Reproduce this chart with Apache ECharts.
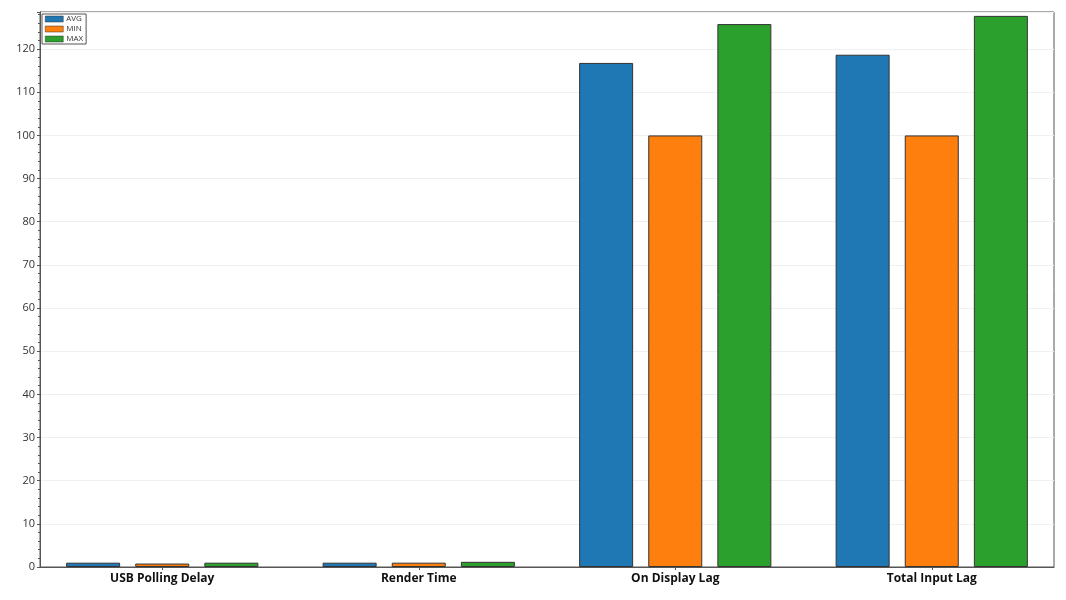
<!DOCTYPE html>
<html><head><meta charset="utf-8">
<script src="https://cdn.jsdelivr.net/npm/echarts@6/dist/echarts.min.js"></script>
<style>html,body{margin:0;padding:0;background:#fff}#c{width:1066px;height:600px}</style>
</head><body><div id="c"></div>
<script>
const categories = ['USB Polling Delay', 'Render Time', 'On Display Lag', 'Total Input Lag'];
const avgValues = [1.0, 1.0, 116.8, 118.7];
const minValues = [0.8, 1.0, 100.0, 100.0];
const maxValues = [1.0, 1.2, 125.8, 127.7];
const seriesNames = ['AVG', 'MIN', 'MAX'];
const colors = ['#1f77b4', '#ff7f0e', '#2ca02c'];
const yMax = 128.6;

const chart = echarts.init(document.getElementById('c'));
const mk = (name, data, color) => ({
  name, type: 'bar', data, xAxisIndex: 0, yAxisIndex: 0,
  barWidth: 54, barGap: '28%',
  itemStyle: { color, borderColor: '#333', borderWidth: 1 }
});
chart.setOption({
  animation: false,
  color: colors,
  grid: [
    { left: 34, right: 6, top: 12, bottom: 33, show: false },
    { left: 40, right: 12, top: 12, bottom: 33, show: true, borderColor: '#555', borderWidth: 1, backgroundColor: 'transparent' }
  ],
  legend: {
    left: 42, top: 14, orient: 'vertical', itemWidth: 18, itemHeight: 6, itemGap: 2, icon: 'rect',
    padding: [1, 3, 1, 3], borderColor: '#555', borderWidth: 1, borderRadius: 0,
    textStyle: { fontSize: 8, lineHeight: 8, color: '#333', fontFamily: 'Open Sans', padding: [0, 0, 0, -2] },
    itemStyle: { borderColor: '#333', borderWidth: 0.5 },
    data: seriesNames
  },
  xAxis: [
    {
      type: 'category', data: categories, gridIndex: 0,
      axisLine: { show: false },
      axisTick: { show: true, alignWithLabel: true, length: 3, lineStyle: { color: '#555' } },
      axisLabel: { fontSize: 12, fontWeight: 'bold', color: '#111', fontFamily: 'Open Sans', margin: 6 }
    },
    {
      type: 'value', gridIndex: 1, min: 0, max: 1,
      axisLine: { show: true, lineStyle: { color: '#555' } },
      axisTick: { show: false }, axisLabel: { show: false }, splitLine: { show: false }
    }
  ],
  yAxis: [
    {
      type: 'value', gridIndex: 0, min: 0, max: yMax, interval: 10,
      axisLine: { show: false }, axisTick: { show: false }, axisLabel: { show: false }, splitLine: { show: false }
    },
    {
      type: 'value', gridIndex: 1, min: 0, max: yMax, interval: 10,
      axisLine: { show: true, lineStyle: { color: '#555' } },
      axisTick: { show: true, length: 3, lineStyle: { color: '#555' } },
      minorTick: { show: true, splitNumber: 5, length: 2, lineStyle: { color: '#555' } },
      splitLine: { show: true, lineStyle: { color: '#f0f0f0' } },
      axisLabel: { fontSize: 11, color: '#333', fontFamily: 'Open Sans', margin: 5,
        formatter: v => (v % 10 === 0 ? String(v) : '') }
    }
  ],
  series: [
    mk(seriesNames[0], avgValues, colors[0]),
    mk(seriesNames[1], minValues, colors[1]),
    mk(seriesNames[2], maxValues, colors[2])
  ]
});
</script></body></html>
